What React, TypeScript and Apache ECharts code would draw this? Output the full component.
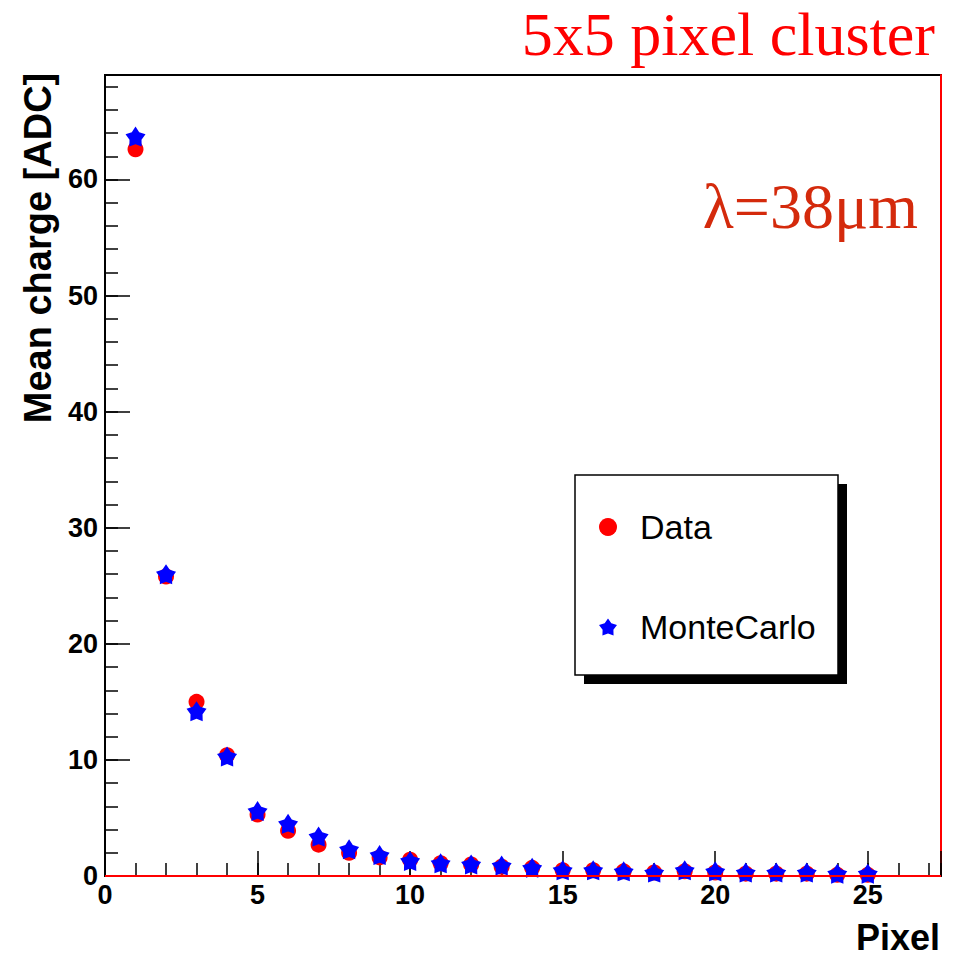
import React, { useEffect, useRef } from "react";
import * as echarts from "echarts";

// Pixel index within the 5x5 cluster (sorted by charge)
const pixels = [1, 2, 3, 4, 5, 6, 7, 8, 9, 10, 11, 12, 13, 14, 15, 16, 17, 18, 19, 20, 21, 22, 23, 24, 25];
// Mean charge [ADC], measured data
const dataCharge = [62.6, 25.8, 15.0, 10.4, 5.3, 3.9, 2.7, 2.0, 1.6, 1.4, 1.1, 1.0, 0.8, 0.7, 0.5, 0.5, 0.4, 0.3, 0.4, 0.3, 0.2, 0.2, 0.2, 0.1, 0.1];
// Mean charge [ADC], simulation
const mcCharge = [63.7, 26.0, 14.2, 10.3, 5.6, 4.5, 3.4, 2.3, 1.8, 1.3, 1.1, 1.0, 0.9, 0.7, 0.5, 0.5, 0.4, 0.3, 0.5, 0.4, 0.3, 0.3, 0.3, 0.2, 0.2];

const xMax = 27.4;
const yMax = 69;

// chunky five-pointed star marker
const STAR =
  "path://M50 0L67.63 25.73L97.55 34.55L78.53 59.27L79.39 90.45L50 80L20.61 90.45L21.47 59.27L2.45 34.55L32.37 25.73Z";

const SANS = "'Liberation Sans', Arial, Helvetica, sans-serif";
const SERIF = "'Liberation Serif', 'Times New Roman', Times, serif";

export default function App() {
  const ref = useRef<HTMLDivElement>(null);

  useEffect(() => {
    if (!ref.current) return;
    const chart = echarts.init(ref.current, null, { renderer: "svg" });

    const tickLabel = {
      color: "#000",
      fontSize: 27,
      fontWeight: "bold" as const,
      fontFamily: SANS,
    };

    chart.setOption({
      animation: false,
      backgroundColor: "#fff",
      grid: {
        left: 105,
        right: 18,
        top: 75,
        bottom: 82,
        show: true,
        borderColor: "#000",
        borderWidth: 2,
      },
      xAxis: [
        {
          type: "value",
          min: 0,
          max: xMax,
          interval: 5,
          axisLine: { show: true, onZero: false, lineStyle: { color: "#000", width: 2 } },
          axisTick: { show: true, inside: true, length: 25, lineStyle: { color: "#000", width: 1.5 } },
          axisLabel: {
            ...tickLabel,
            margin: 5,
            formatter: (v: number) => (v % 5 === 0 ? String(v) : ""),
          },
          splitLine: { show: false },
        },
        {
          type: "value",
          min: 0,
          max: xMax,
          interval: 1,
          position: "bottom",
          axisLine: { show: false },
          axisTick: { show: true, inside: true, length: 13, lineStyle: { color: "#000", width: 1.5 } },
          axisLabel: { show: false },
          splitLine: { show: false },
        },
      ],
      yAxis: [
        {
          type: "value",
          min: 0,
          max: yMax,
          interval: 10,
          position: "left",
          axisLine: { show: true, onZero: false, lineStyle: { color: "#000", width: 2 } },
          axisTick: { show: true, inside: true, length: 25, lineStyle: { color: "#000", width: 1.5 } },
          axisLabel: {
            ...tickLabel,
            margin: 7,
            formatter: (v: number) => (v % 10 === 0 ? String(v) : ""),
          },
          splitLine: { show: false },
        },
        {
          type: "value",
          min: 0,
          max: yMax,
          interval: 2,
          position: "left",
          axisLine: { show: false },
          axisTick: { show: true, inside: true, length: 13, lineStyle: { color: "#000", width: 1.5 } },
          axisLabel: { show: false },
          splitLine: { show: false },
        },
        {
          type: "value",
          min: 0,
          max: yMax,
          position: "right",
          axisLine: { show: true, onZero: false, lineStyle: { color: "#ff0000", width: 2 } },
          axisTick: { show: false },
          axisLabel: { show: false },
          splitLine: { show: false },
        },
      ],
      legend: {
        data: [
          { name: "Data", icon: "circle" },
          { name: "MonteCarlo", icon: STAR },
        ],
        orient: "vertical",
        left: 599,
        top: 507,
        itemWidth: 18,
        itemHeight: 18,
        itemGap: 60,
        padding: 0,
        selectedMode: false,
        z: 10,
        textStyle: {
          color: "#000",
          fontSize: 34,
          fontFamily: SANS,
          lineHeight: 40,
          padding: [0, 0, 0, 18],
        },
      },
      series: [
        {
          name: "Data",
          type: "scatter",
          xAxisIndex: 0,
          yAxisIndex: 0,
          data: pixels.map((p, i) => [p, dataCharge[i]]),
          symbol: "circle",
          symbolSize: 16,
          itemStyle: { color: "#ff0000", opacity: 1 },
          z: 3,
          markLine: {
            silent: true,
            symbol: ["none", "none"],
            label: { show: false },
            lineStyle: { color: "#ff0000", width: 2, type: "solid" },
            data: [{ yAxis: 0 }],
          },
        },
        {
          name: "MonteCarlo",
          type: "scatter",
          xAxisIndex: 0,
          yAxisIndex: 0,
          data: pixels.map((p, i) => [p, mcCharge[i]]),
          symbol: STAR,
          symbolSize: 20,
          itemStyle: { color: "#0000ff", opacity: 1 },
          z: 4,
        },
      ],
      graphic: [
        // legend frame with drop shadow
        { type: "rect", z: 1, shape: { x: 584, y: 484, width: 263, height: 200 }, style: { fill: "#000" } },
        {
          type: "rect",
          z: 2,
          shape: { x: 575, y: 475, width: 263, height: 200 },
          style: { fill: "#fff", stroke: "#000", lineWidth: 1.5 },
        },
        {
          type: "text",
          z: 5,
          x: 935,
          y: 34,
          style: {
            text: "5x5 pixel cluster",
            fill: "#ff0000",
            font: `62px ${SERIF}`,
            textAlign: "right",
            textVerticalAlign: "middle",
          },
        },
        {
          type: "text",
          z: 5,
          x: 918,
          y: 206,
          style: {
            text: "λ=38μm",
            fill: "#d42a0c",
            font: `64px ${SERIF}`,
            textAlign: "right",
            textVerticalAlign: "middle",
          },
        },
        {
          type: "text",
          z: 5,
          x: 38,
          y: 248,
          rotation: Math.PI / 2,
          style: {
            text: "Mean charge [ADC]",
            fill: "#000",
            font: `bold 38px ${SANS}`,
            textAlign: "center",
            textVerticalAlign: "middle",
          },
        },
        {
          type: "text",
          z: 5,
          x: 940,
          y: 937,
          style: {
            text: "Pixel",
            fill: "#000",
            font: `bold 36px ${SANS}`,
            textAlign: "right",
            textVerticalAlign: "middle",
          },
        },
      ],
    });

    return () => chart.dispose();
  }, []);

  return (
    <div
      ref={ref}
      style={{ position: "fixed", left: 0, top: 0, width: 959, height: 958, background: "#fff" }}
    />
  );
}
